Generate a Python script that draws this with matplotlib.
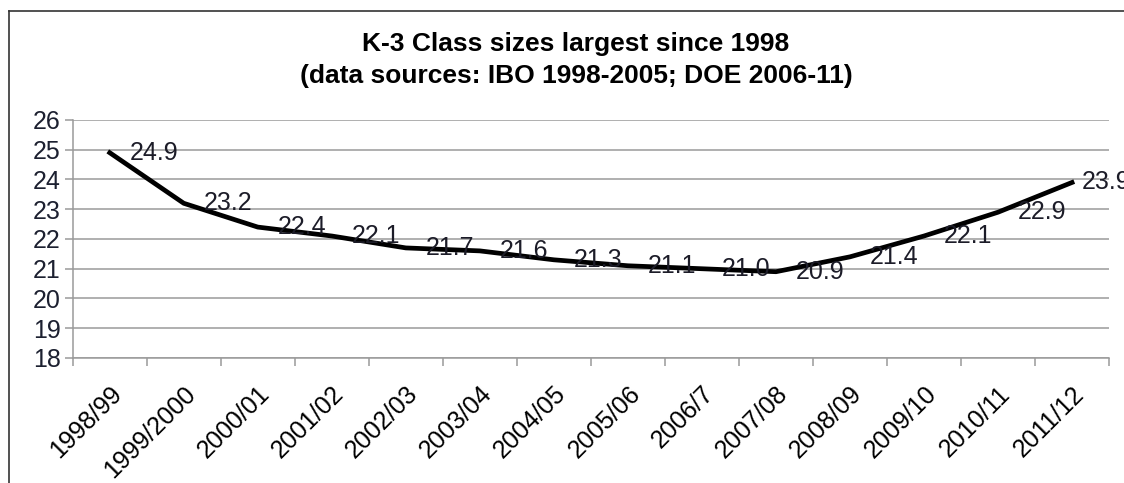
import matplotlib.pyplot as plt
from matplotlib.lines import Line2D
import numpy as np

years = ['1998/99', '1999/2000', '2000/01', '2001/02', '2002/03', '2003/04', '2004/05',
         '2005/06', '2006/7', '2007/08', '2008/09', '2009/10', '2010/11', '2011/12']
class_size = [24.9, 23.2, 22.4, 22.1, 21.7, 21.6, 21.3, 21.1, 21.0, 20.9, 21.4, 22.1, 22.9, 23.9]
value_labels = ['24.9', '23.2', '22.4', '22.1', '21.7', '21.6', '21.3', '21.1', '21.0',
                '20.9', '21.4', '22.1', '22.9', '23.9']
y_ticks = [18, 19, 20, 21, 22, 23, 24, 25, 26]

plt.rcParams['font.family'] = ['Liberation Sans', 'DejaVu Sans']

fig = plt.figure(figsize=(11.24, 4.83), dpi=100)
ax = fig.add_axes([0.0647, 0.2588, 0.9220, 0.4928])

x = np.arange(len(years))
ax.plot(x, class_size, color='black', linewidth=3.4, solid_joinstyle='round', zorder=3)
for i, (xi, yi, lab) in enumerate(zip(x, class_size, value_labels)):
    # the last label sits closer to its point, like the original
    dx = 7 if i == len(years) - 1 else 14.5
    ax.annotate(lab, (xi, yi), xytext=(dx, 0), textcoords='offset points',
                ha='left', va='center', fontsize=18, color='#1c1c28', zorder=4)

ax.set_xlim(-0.5, len(years) - 0.5)
ax.set_ylim(18, 26)
ax.set_yticks(y_ticks)
ax.set_yticklabels([str(t) for t in y_ticks], fontsize=18, color='#1c2030')
ax.yaxis.grid(True, color='#9a9a9a', linewidth=1.1)
ax.set_axisbelow(True)

ax.set_xticks(x)
ax.set_xticklabels(years, rotation=45, ha='right', rotation_mode='anchor', fontsize=18)
ax.set_xticks(np.arange(-0.5, len(years)), minor=True)
ax.tick_params(axis='x', which='major', length=0, pad=17)
ax.tick_params(axis='x', which='minor', length=5.5, width=1.1, color='#9a9a9a')
ax.tick_params(axis='y', length=5.5, width=1.1, color='#9a9a9a', pad=3)

for side in ['top', 'right']:
    ax.spines[side].set_visible(False)
for side in ['left', 'bottom']:
    ax.spines[side].set_color('#9a9a9a')
    ax.spines[side].set_linewidth(1.1)

fig.text(0.5125, 0.908, 'K-3 Class sizes largest since 1998', ha='center', va='center',
         fontsize=19, fontweight='bold')
fig.text(0.5125, 0.843, '(data sources: IBO 1998-2005; DOE 2006-11)', ha='center', va='center',
         fontsize=19, fontweight='bold')

# frame of the chart area (left and top edges visible)
fig.add_artist(Line2D([0.008, 0.008], [0.0, 0.977], transform=fig.transFigure, color='#333333', linewidth=1.2))
fig.add_artist(Line2D([0.008, 1.0], [0.977, 0.977], transform=fig.transFigure, color='#333333', linewidth=1.2))

fig.savefig('out.png', dpi=100)
